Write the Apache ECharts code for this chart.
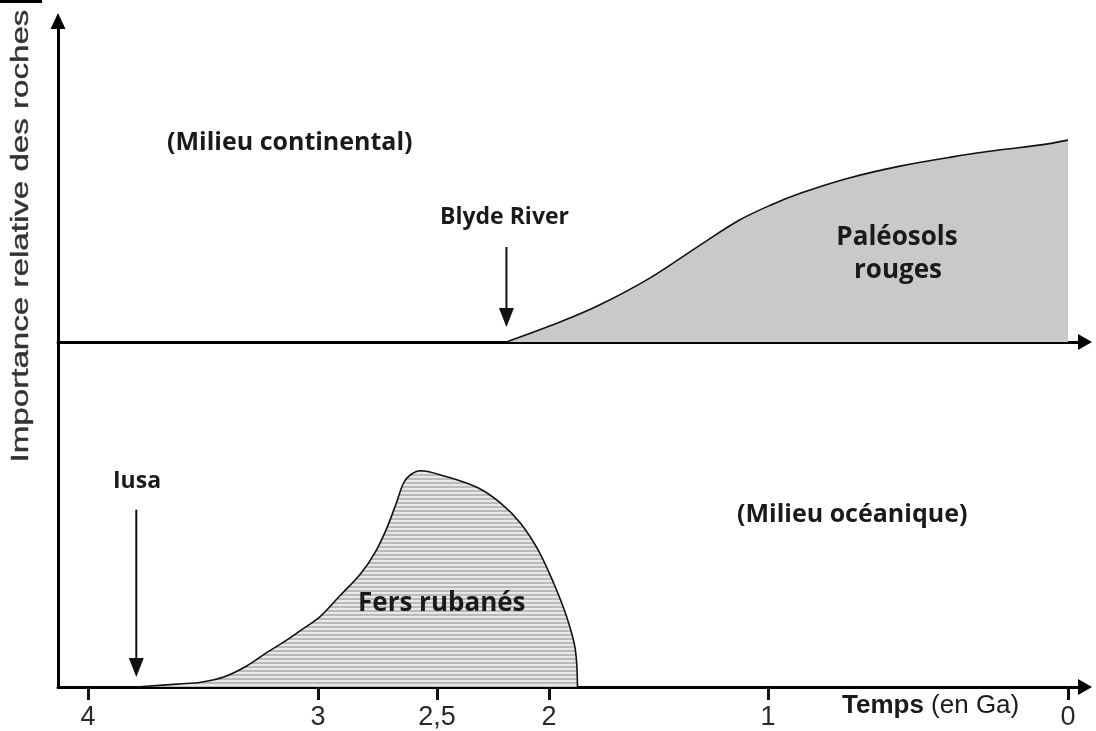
<!DOCTYPE html>
<html><head><meta charset="utf-8">
<script src="https://cdn.jsdelivr.net/npm/echarts@6/dist/echarts.min.js"></script>
<style>html,body{margin:0;padding:0;background:#fff}#c{width:1096px;height:731px}</style>
</head><body><div id="c"></div>
<script>
// ---- data ----
const tickAges = [4, 3, 2.5, 2, 1, 0];
const tickLabels = ['4', '3', '2,5', '2', '1', '0'];

// Paléosols rouges (milieu continental): age in Ga, relative importance (0-100)
const paleoAges   = [2.19, 1.95, 1.77, 1.54, 1.31, 1.13, 0.99, 0.89, 0.73, 0.56, 0.39, 0.23, 0.09, 0];
const paleoValues = [0, 6.2, 11.5, 19.9, 30.2, 38.0, 42.7, 46.4, 51.1, 54.8, 57.6, 59.8, 61.4, 62.9];

// Fers rubanés (milieu océanique)
const fersAges   = [3.79, 3.60, 3.51, 3.41, 3.31, 3.22, 3.15, 3.08, 2.99, 2.91, 2.82, 2.76, 2.71, 2.67, 2.64, 2.61, 2.57, 2.46, 2.32, 2.22, 2.13, 2.05, 1.98, 1.92, 1.88, 1.87];
const fersValues = [0, 0.9, 1.4, 2.9, 6.1, 10.1, 13.0, 16.2, 20.5, 26.3, 32.9, 39.0, 46.2, 53.5, 59.2, 61.6, 62.7, 61.0, 57.8, 53.5, 47.7, 39.9, 30.3, 20.5, 11.0, 0];

// Events (arrows)
const eventNames = ['Blyde River', 'Iusa'];
const eventAges  = [2.19, 3.79];

// ---- schematic (non-uniform) time scale: Ga -> axis units ----
const SCALE_AGES = [4, 3, 2.5, 2, 1, 0];
const SCALE_UNITS = [30, 260, 379, 491, 710, 1010];
function ageToAxis(a) {
  for (let i = 0; i < SCALE_AGES.length - 1; i++) {
    const a0 = SCALE_AGES[i], a1 = SCALE_AGES[i + 1];
    if (a <= a0 && a >= a1) {
      return SCALE_UNITS[i] + (a0 - a) / (a0 - a1) * (SCALE_UNITS[i + 1] - SCALE_UNITS[i]);
    }
  }
  return a > 4 ? SCALE_UNITS[0] : SCALE_UNITS[SCALE_UNITS.length - 1];
}
const tickPos = tickAges.map(ageToAxis);

// stripe pattern
const pat = document.createElement('canvas');
pat.width = 8; pat.height = 4;
const pc = pat.getContext('2d');
pc.fillStyle = '#e8e8e8'; pc.fillRect(0, 0, 8, 4);
pc.fillStyle = '#bababa'; pc.fillRect(0, 2, 8, 2);

const chart = echarts.init(document.getElementById('c'), null, {renderer: 'canvas'});
const X_MAX = 1027;
const axisLineStyle = {color: '#000', width: 3};

chart.setOption({
  animation: false,
  backgroundColor: '#fff',
  grid: [
    {left: 58, top: 21, width: X_MAX, height: 321},
    {left: 58, top: 342, width: X_MAX, height: 346}
  ],
  xAxis: [
    {gridIndex: 0, type: 'value', min: 0, max: X_MAX,
     axisLine: {show: true, lineStyle: axisLineStyle, symbol: ['none', 'triangle'], symbolSize: [16, 14]},
     axisTick: {show: false}, axisLabel: {show: false}, splitLine: {show: false}},
    {gridIndex: 1, type: 'value', min: 0, max: X_MAX,
     axisLine: {show: true, lineStyle: axisLineStyle, symbol: ['none', 'triangle'], symbolSize: [16, 14]},
     axisTick: {show: true, customValues: tickPos, length: 13, lineStyle: {color: '#111', width: 3}},
     axisLabel: {show: true, customValues: tickPos, margin: 17, fontSize: 27, color: '#2a2a2a',
       fontFamily: 'Liberation Sans, Arial, sans-serif',
       formatter: function (v) {
         for (let i = 0; i < tickPos.length; i++) if (Math.abs(tickPos[i] - v) < 0.01) return tickLabels[i];
         return '';
       }},
     splitLine: {show: false}}
  ],
  yAxis: [
    {gridIndex: 0, type: 'value', min: 0, max: 100,
     axisLine: {show: true, lineStyle: axisLineStyle, symbol: ['none', 'triangle'], symbolSize: [15, 16]},
     axisTick: {show: false}, axisLabel: {show: false}, splitLine: {show: false}},
    {gridIndex: 1, type: 'value', min: 0, max: 100,
     axisLine: {show: true, lineStyle: axisLineStyle},
     axisTick: {show: false}, axisLabel: {show: false}, splitLine: {show: false}}
  ],
  series: [
    {name: 'Paléosols rouges', type: 'line', xAxisIndex: 0, yAxisIndex: 0,
     data: paleoAges.map((a, i) => [ageToAxis(a), paleoValues[i]]),
     smooth: 0.35, symbol: 'none',
     lineStyle: {color: '#111', width: 1.6},
     areaStyle: {color: '#c9c9c9', opacity: 1}, z: 1},
    {name: 'Fers rubanés', type: 'line', xAxisIndex: 1, yAxisIndex: 1,
     data: fersAges.map((a, i) => [ageToAxis(a), fersValues[i]]),
     smooth: 0.35, symbol: 'none',
     lineStyle: {color: '#111', width: 1.6},
     areaStyle: {color: {image: pat, repeat: 'repeat'}, opacity: 1}, z: 1}
  ]
});

// ---- annotations ----
const boldFont = "bold 25px 'Open Sans', sans-serif";
const bold23 = "bold 23px 'Open Sans', sans-serif";
const bold25 = "bold 25px 'Open Sans', sans-serif";
function txt(text, x, y, font, align) {
  return {type: 'text', x: x, y: y, z: 100, silent: true,
    style: {text: text, font: font, fill: '#1a1a1a', align: align || 'left', verticalAlign: 'middle',
            textAlign: align || 'left', textVerticalAlign: 'middle'}};
}
function arrow(gridIdx, age, vTop, vTip) {
  const p0 = chart.convertToPixel({xAxisIndex: gridIdx, yAxisIndex: gridIdx}, [ageToAxis(age), vTop]);
  const p1 = chart.convertToPixel({xAxisIndex: gridIdx, yAxisIndex: gridIdx}, [ageToAxis(age), vTip]);
  const headH = 19, headW = 15;
  return [
    {type: 'line', z: 100, silent: true, shape: {x1: p0[0], y1: p0[1], x2: p1[0], y2: p1[1] - headH + 2},
     style: {stroke: '#111', lineWidth: 2}},
    {type: 'polygon', z: 100, silent: true,
     shape: {points: [[p1[0] - headW / 2, p1[1] - headH], [p1[0] + headW / 2, p1[1] - headH], [p1[0], p1[1]]]},
     style: {fill: '#111'}}
  ];
}

const graphics = [
  {type: 'rect', shape: {x: 0, y: 0, width: 42, height: 3}, style: {fill: '#000'}, silent: true},
  {type: 'text', x: 22, y: 236, rotation: Math.PI / 2, scaleX: 1.44, z: 100, silent: true,
   style: {text: 'Importance relative des roches', font: "23px 'Liberation Sans', Arial, sans-serif",
           fill: '#333', stroke: '#333', lineWidth: 0.4,
           align: 'center', verticalAlign: 'middle', textAlign: 'center', textVerticalAlign: 'middle'}},
  {type: 'text', x: 842, y: 706, z: 100, silent: true,
   style: {text: '{b|Temps} (en Ga)', font: "26px 'Liberation Sans', Arial, sans-serif", fill: '#1a1a1a',
           verticalAlign: 'middle', textVerticalAlign: 'middle',
           rich: {b: {fontWeight: 'bold', fontSize: 26, fontFamily: 'Liberation Sans, Arial, sans-serif', fill: '#1a1a1a', color: '#1a1a1a'}}}},
  txt('(Milieu continental)', 167, 143, boldFont),
  txt(eventNames[0], 440, 217, bold23),
  txt('Paléosols', 897, 238, "bold 26px 'Open Sans', sans-serif", 'center'),
  txt('rouges', 898, 271, "bold 26px 'Open Sans', sans-serif", 'center'),
  txt(eventNames[1], 137, 481, bold23, 'center'),
  txt('Fers rubanés', 358, 604, "bold 26px 'Open Sans', sans-serif"),
  txt('(Milieu océanique)', 737, 515, bold25)
].concat(arrow(0, eventAges[0], 29.6, 4.7)).concat(arrow(1, eventAges[1], 51.4, 2.9));

chart.setOption({graphic: graphics});
</script>
</body></html>
